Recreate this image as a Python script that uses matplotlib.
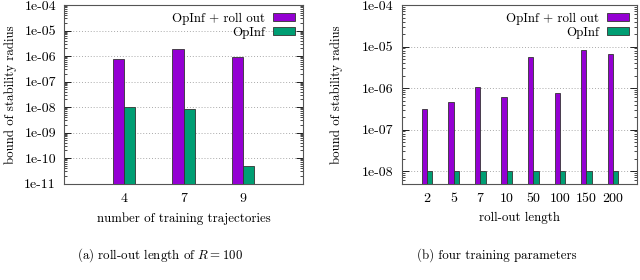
import matplotlib
matplotlib.use("Agg")
import matplotlib.pyplot as plt
import numpy as np
from matplotlib import ticker

plt.rcParams["font.family"] = "cmr10"
plt.rcParams["mathtext.fontset"] = "cm"
plt.rcParams["axes.formatter.use_mathtext"] = True
plt.rcParams["font.size"] = 9.3

# data
traj_labels = ["4", "7", "9"]
traj_rollout = [7.4e-7, 1.85e-6, 9.5e-7]
traj_opinf = [9.8e-9, 8.6e-9, 4.7e-11]

roll_labels = ["2", "5", "7", "10", "50", "100", "150", "200"]
roll_rollout = [3.2e-7, 4.6e-7, 1.08e-6, 6.0e-7, 5.7e-6, 7.7e-7, 8.3e-6, 6.7e-6]
roll_opinf = [1e-8, 1e-8, 1e-8, 1e-8, 1e-8, 1e-8, 1e-8, 1e-8]

purple = "#9400D3"
green = "#009E73"

fig = plt.figure(figsize=(6.4, 2.8), dpi=100)
ax1 = fig.add_axes([0.1005, 0.3446, 0.3725, 0.6375])
ax2 = fig.add_axes([0.628, 0.3446, 0.367, 0.6375])


def draw(ax, labels, a, b, w, ylim, xlim, xlabel, ylab_x):
    x = np.arange(len(labels))
    ax.bar(x - w / 2, a, width=w, color=purple, edgecolor="#333333", linewidth=0.6,
           label="OpInf + roll out", zorder=3)
    ax.bar(x + w / 2, b, width=w, color=green, edgecolor="#333333", linewidth=0.6,
           label="OpInf", zorder=3)
    ax.set_yscale("log")
    ax.set_ylim(*ylim)
    ax.set_xlim(*xlim)
    ax.set_xticks(x)
    ax.set_xticklabels(labels)
    ax.yaxis.set_major_locator(ticker.LogLocator(base=10, numticks=20))
    ax.yaxis.set_minor_locator(ticker.LogLocator(base=10, subs=np.arange(2, 10), numticks=20))
    ax.yaxis.set_major_formatter(ticker.FuncFormatter(
        lambda v, p: "1e-%02d" % round(-np.log10(v))))
    ax.yaxis.set_minor_formatter(ticker.NullFormatter())
    ax.grid(axis="y", which="major", linestyle=(0, (1, 2)), color="#aaaaaa",
            linewidth=0.7, zorder=0)
    ax.tick_params(axis="y", which="both", direction="in", right=True, pad=6,
                   labelsize=10)
    ax.tick_params(axis="y", which="major", length=5, width=0.6)
    ax.tick_params(axis="y", which="minor", length=2.5, width=0.5)
    ax.tick_params(axis="x", length=0, pad=7, labelsize=10)
    for s in ax.spines.values():
        s.set_color("#555555")
        s.set_linewidth(0.8)
    ax.set_xlabel(xlabel, labelpad=5)
    ax.set_ylabel("bound of stability radius")
    ax.yaxis.set_label_coords(ylab_x, 0.5)
    ax.legend(loc="upper right", frameon=False, markerfirst=False,
              handlelength=1.7, handleheight=0.6, handletextpad=0.6,
              labelspacing=0.15, borderaxespad=0.2, fontsize=9.3)


draw(ax1, traj_labels, traj_rollout, traj_opinf, 0.19, (1e-11, 1e-4), (-1, 3),
     "number of training trajectories", -0.2)
draw(ax2, roll_labels, roll_rollout, roll_opinf, 0.2, (5e-9, 1e-4), (-0.95, 7.9),
     "roll-out length", -0.25)

fig.text(0.25, 0.09, r"(a) roll-out length of $R = 100$", ha="center", va="center")
fig.text(0.777, 0.09, "(b) four training parameters", ha="center", va="center")

fig.savefig("out.png", dpi=100)
